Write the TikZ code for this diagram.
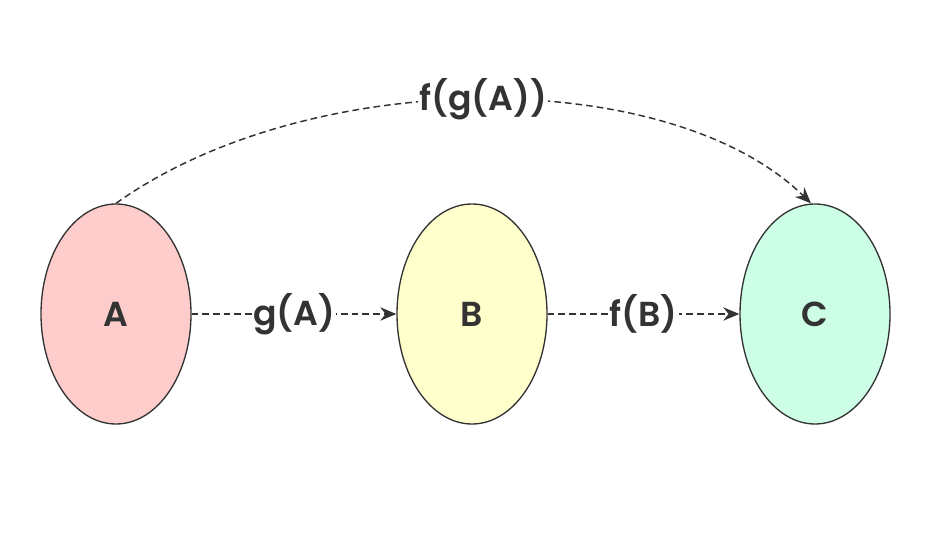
\documentclass[tikz,border=0pt]{standalone}
\usepackage{fontspec}
\setmainfont{Poppins}[BoldFont={Poppins SemiBold}]
\usetikzlibrary{arrows.meta,shapes.geometric}
\definecolor{lineC}{HTML}{333333}
\definecolor{fillA}{HTML}{FFCCCC}
\definecolor{fillB}{HTML}{FFFFCC}
\definecolor{fillC}{HTML}{CCFFE6}
\tikzset{
  blob/.style={ellipse, draw=lineC, line width=1pt, minimum width=112.5pt, minimum height=165pt, inner sep=0pt, font=\fontsize{26}{29}\selectfont\bfseries, text=lineC},
  conn/.style={draw=lineC, line width=1.1pt, dash pattern=on 5pt off 3pt, -{Stealth[length=12pt,width=10pt]}},
  lbl/.style={fill=white, inner sep=1pt, font=\fontsize{26}{29}\selectfont\bfseries, text=lineC}
}
\begin{document}
\begin{tikzpicture}[x=0.75pt,y=-0.75pt]
\useasboundingbox (0,0) rectangle (952,545);
\node[blob, fill=fillA] (A) at (116,314) {A};
\node[blob, fill=fillB] (B) at (472,314) {B};
\node[blob, fill=fillC] (C) at (815,314) {C};
\draw[conn] (A) -- node[lbl] {g(A)} (B);
\draw[conn] (B) -- node[lbl] {f(B)} (C);
\draw[conn] (A.north) .. controls (310,65) and (670,65) .. ([xshift=-3pt]C.north) node[lbl, pos=0.5] {f(g(A))};
\end{tikzpicture}
\end{document}
